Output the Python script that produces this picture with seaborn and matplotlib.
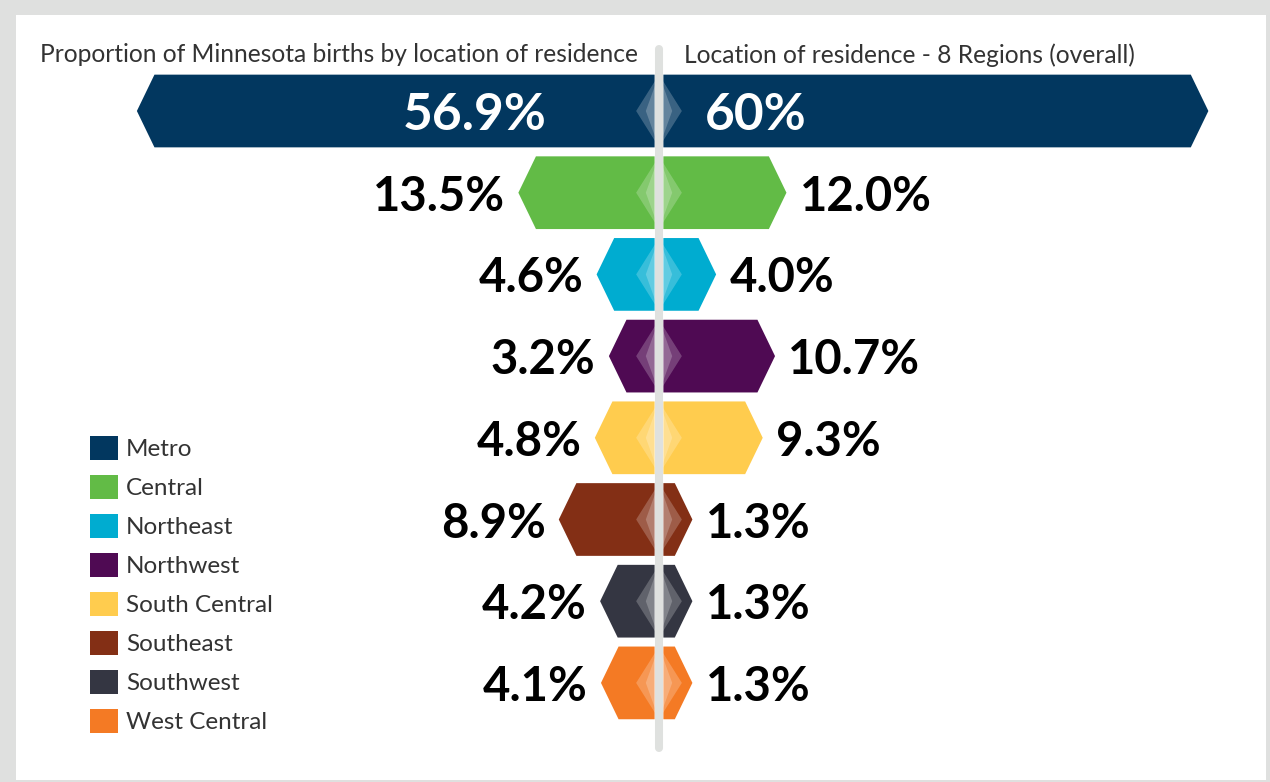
import matplotlib
matplotlib.use("Agg")
import matplotlib.pyplot as plt
from matplotlib.patches import Polygon, Rectangle, Patch
import seaborn as sns

regions = ["Metro", "Central", "Northeast", "Northwest", "South Central",
           "Southeast", "Southwest", "West Central"]
births = [56.9, 13.5, 4.6, 3.2, 4.8, 8.9, 4.2, 4.1]
residence = [60, 12.0, 4.0, 10.7, 9.3, 1.3, 1.3, 1.3]
births_labels = ["56.9%", "13.5%", "4.6%", "3.2%", "4.8%", "8.9%", "4.2%", "4.1%"]
residence_labels = ["60%", "12.0%", "4.0%", "10.7%", "9.3%", "1.3%", "1.3%", "1.3%"]
colors = ["#02375f", "#62bb46", "#00acd0", "#4f0a53", "#ffcc4e",
          "#832f15", "#343642", "#f47a24"]
left_title = "Proportion of Minnesota births by location of residence"
right_title = "Location of residence - 8 Regions (overall)"

W, H = 1270, 782
PX = 8.79     # pixels per percent point
ROW = 81.7    # pixels per row
CX, Y0 = 659, 111
GAP, TIP = 0.5, 2.0

sns.set_theme(style="white")
plt.rcParams["font.family"] = ["Lato", "DejaVu Sans"]

fig = plt.figure(figsize=(W / 100, H / 100), dpi=100, facecolor="#dfe0df")
fig.patches.append(Rectangle((16 / W, 2 / H), (1266 - 16) / W, (767 - 2) / H,
                             transform=fig.transFigure, facecolor="white",
                             edgecolor="none", zorder=-1))
ax = fig.add_axes([0, 0, 1, 1])
ax.set_facecolor("none")
ax.set_zorder(1)

sns.barplot(x=[-v for v in births], y=regions, hue=regions, palette=colors,
            orient="h", width=0.89, dodge=False, legend=False, errorbar=None,
            saturation=1, ax=ax)
sns.barplot(x=residence, y=regions, hue=regions, palette=colors,
            orient="h", width=0.89, dodge=False, legend=False, errorbar=None,
            saturation=1, ax=ax)

# turn the plain bars into pointed hexagon halves
for p in list(ax.patches):
    w = p.get_width()
    h = p.get_height()
    yc = p.get_y() + h / 2
    s = 1 if w > 0 else -1
    x0 = s * GAP
    x1 = x0 + w
    xt = x1 + s * TIP
    hexa = Polygon([(x0, yc - h / 2), (x1, yc - h / 2), (xt, yc),
                    (x1, yc + h / 2), (x0, yc + h / 2)],
                   closed=True, facecolor=p.get_facecolor(), edgecolor="none", zorder=2)
    ax.add_patch(hexa)
    p.remove()
    if s > 0:
        for hw in (2.6, 1.5):
            ax.add_patch(Polygon([(-hw, yc), (0, yc - h / 2), (hw, yc), (0, yc + h / 2)],
                                 closed=True, facecolor="white", alpha=0.22,
                                 edgecolor="none", zorder=3))

# centre line
ax.plot([0, 0], [(49 - Y0) / ROW, (748 - Y0) / ROW], color="#dfe1df", lw=5.8,
        solid_capstyle="round", zorder=4)

for i, (b, r) in enumerate(zip(births, residence)):
    if i == 0:
        kw = dict(fontsize=37, fontweight="bold", va="center_baseline",
                  color="white", zorder=5)
        ax.text(-12.8, i, births_labels[i], ha="right", **kw)
        ax.text(5.2, i, residence_labels[i], ha="left", **kw)
    else:
        kw = dict(fontsize=34, fontweight="bold", va="center_baseline",
                  color="black", zorder=5)
        ax.text(-(GAP + b + TIP + 1.5), i, births_labels[i], ha="right", **kw)
        ax.text(GAP + r + TIP + 1.5, i, residence_labels[i], ha="left", **kw)

ty = (55 - Y0) / ROW
ax.text((638 - CX) / PX, ty, left_title, ha="right", va="center", fontsize=17.7,
        color="#333333")
ax.text((684 - CX) / PX, ty, right_title, ha="left", va="center", fontsize=17.7,
        color="#333333")

handles = [Patch(facecolor=c, edgecolor="none", label=n) for c, n in zip(colors, regions)]
fs = 17.5
fpx = fs * 100 / 72
leg = ax.legend(handles=handles, loc="upper left",
                bbox_to_anchor=(90 / W, 1 - 436 / H), bbox_transform=fig.transFigure,
                frameon=False, fontsize=fs, borderpad=0, borderaxespad=0,
                handlelength=28 / fpx, handleheight=28 / fpx,
                handletextpad=8 / fpx, labelspacing=0.605)
for t in leg.get_texts():
    t.set_color("#333333")

ax.set_xlim(-CX / PX, (W - CX) / PX)
ax.set_ylim((H - Y0) / ROW, -Y0 / ROW)
ax.set_axis_off()

fig.savefig("out.png", dpi=100, facecolor=fig.get_facecolor())
